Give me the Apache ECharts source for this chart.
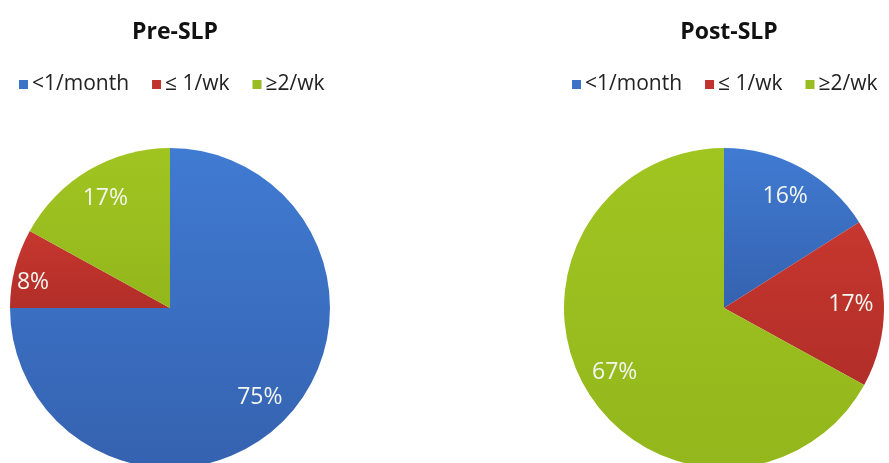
<!DOCTYPE html>
<html>
<head>
<meta charset="utf-8">
<script src="https://cdn.jsdelivr.net/npm/echarts@6/dist/echarts.min.js"></script>
<style>
  html, body { margin: 0; padding: 0; background: #fff; }
  #chart { width: 889px; height: 463px; }
</style>
</head>
<body>
<div id="chart"></div>
<script>
// Frequency categories and percentages before / after SLP
const categories = ['<1/month', '\u2264 1/wk', '\u22652/wk'];
const preValues = [75, 8, 17];
const postValues = [16, 17, 67];
const chartTitles = ['Pre-SLP', 'Post-SLP'];

const FONT = '"Open Sans", "DejaVu Sans", sans-serif';

// Slice fills: light at the top, slightly darker toward the bottom
function grad(top, bottom) {
  return new echarts.graphic.LinearGradient(0, 0, 0, 1, [
    { offset: 0, color: top },
    { offset: 1, color: bottom }
  ]);
}
const fills = [
  grad('#407bd2', '#3562b0'),
  grad('#c6372f', '#b22e28'),
  grad('#a0c521', '#93b71c')
];
const legendColors = ['#3d72c6', '#c0342d', '#99bd21'];

const centers = [[170, 308], [724, 308]];
const R = 160;

function buildData(values) {
  return values.map((v, i) => ({
    name: categories[i],
    value: v,
    itemStyle: { color: fills[i] }
  }));
}

function pieSeries(values, idx) {
  return {
    type: 'pie',
    center: centers[idx],
    radius: R,
    startAngle: 90,
    clockwise: true,
    animation: false,
    silent: true,
    label: { show: false },
    labelLine: { show: false },
    itemStyle: { borderWidth: 0 },
    data: buildData(values)
  };
}

// Transparent ring carrying the percentage labels at ~0.78 of the radius
function labelSeries(values, idx) {
  return {
    type: 'pie',
    center: centers[idx],
    radius: [92, 156],
    startAngle: 90,
    clockwise: true,
    animation: false,
    silent: true,
    legendHoverLink: false,
    label: {
      show: true,
      position: 'inside',
      formatter: '{c}%',
      color: '#f4f6f0',
      fontFamily: FONT,
      fontSize: 23
    },
    labelLine: { show: false },
    itemStyle: { color: 'rgba(0,0,0,0)', borderWidth: 0 },
    data: values.map((v, i) => {
      const item = { name: categories[i], value: v };
      // small slice: push its label outward
      if (v < 10) item.label = { offset: [-14, 6] };
      return item;
    })
  };
}

function legend(idx, left) {
  return {
    left: left,
    top: 69,
    icon: 'rect',
    itemWidth: 9,
    itemHeight: 9,
    itemGap: 23,
    selectedMode: false,
    textStyle: { fontFamily: FONT, fontSize: 21, color: '#222', padding: [0, 0, 0, -1] },
    data: categories.map((c, i) => ({ name: c, itemStyle: { color: legendColors[i] } }))
  };
}

const chart = echarts.init(document.getElementById('chart'), null, { renderer: 'canvas' });
chart.setOption({
  backgroundColor: '#ffffff',
  color: legendColors,
  title: [
    { text: chartTitles[0], left: 170, top: 16, textAlign: 'center',
      textStyle: { fontFamily: FONT, fontSize: 23, fontWeight: 'bold', color: '#111' } },
    { text: chartTitles[1], left: 724, top: 16, textAlign: 'center',
      textStyle: { fontFamily: FONT, fontSize: 23, fontWeight: 'bold', color: '#111' } }
  ],
  legend: [legend(0, 14), legend(1, 567)],
  series: [
    pieSeries(preValues, 0),
    pieSeries(postValues, 1),
    labelSeries(preValues, 0),
    labelSeries(postValues, 1)
  ]
});
</script>
</body>
</html>
